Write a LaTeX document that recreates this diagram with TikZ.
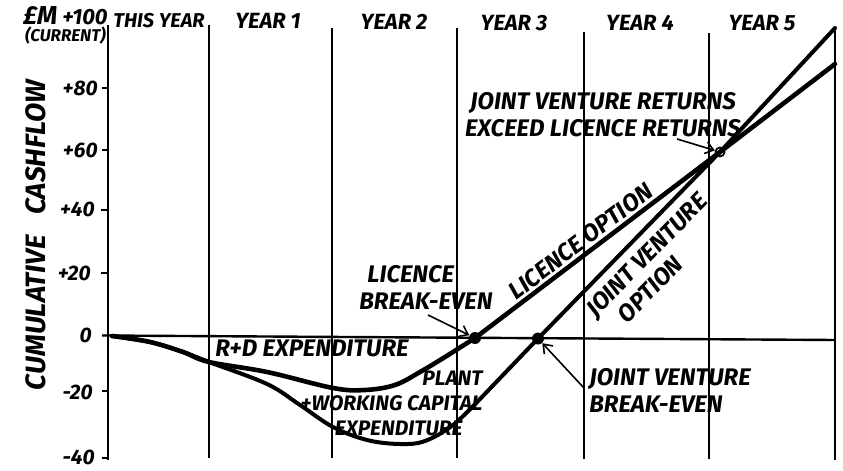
\documentclass[tikz,border=0pt]{standalone}
\usepackage{fontspec}
\setmainfont{Fira Sans}
\usetikzlibrary{arrows.meta}
\newcommand\hand[2]{\fontsize{#1}{#2}\selectfont\bfseries\itshape}
\tikzset{every node/.style={font=\hand{12}{13.5},inner sep=1pt},
  yearlab/.style={font=\hand{11}{13}},
  ticklab/.style={font=\hand{10.5}{12},anchor=east},
  grid/.style={line width=1pt},
  curve/.style={line width=2.3pt,line join=round,line cap=round},
  dot/.style={circle,fill,minimum size=6pt,inner sep=0pt},
  ring/.style={circle,draw,line width=0.9pt,minimum size=4.5pt,inner sep=0pt},
  pointer/.style={line width=0.8pt,-{Straight Barb[length=4pt,width=6pt]}}}

\begin{document}
\begin{tikzpicture}[x=0.5pt,y=-0.5pt]
\useasboundingbox (0,0) rectangle (843,471);

% axis and year grid
\draw[grid] (108,25) -- (108,460);
\draw[grid] (209,25) -- (209,458);
\draw[grid] (332,28) -- (332,458);
\draw[grid] (457,28) -- (457,458);
\draw[grid] (584,32) -- (584,459);
\draw[grid] (709,33) -- (709,459);
\draw[grid] (835,27) -- (835,460);
\draw[line width=1.2pt] (102,335.5) -- (835,340);

\draw[grid] (102,88) -- (108,88);
\draw[grid] (102,150) -- (108,150);
\draw[grid] (101,210) -- (108,210);
\draw[grid] (101,273) -- (108,273);
\draw[grid] (102,391) -- (108,391);
\draw[grid] (102,458) -- (108,458);

\node[ticklab] (t80) at (100,88) {+80};
\node[ticklab] (t60) at (100,150) {+60};
\node[ticklab] (t40) at (97,209) {+40};
\node[ticklab] (t20) at (93,273) {+20};
\node[ticklab] (t0) at (94,335) {0};
\node[ticklab] (tm20) at (95,392) {-20};
\node[ticklab] (tm40) at (97,457) {-40};

\node[anchor=base east,font=\hand{11}{13}] (unit) at (110,25) {{\fontsize{13}{15}\selectfont £M} +100};
\node[anchor=base east,font=\hand{8.5}{10}] (cur) at (108,41) {(CURRENT)};
\node[rotate=90,font=\hand{14}{16}] (title) at (36,235) {CUMULATIVE\hspace{10pt}CASHFLOW};

\node[yearlab,font=\hand{10}{12}] (y0) at (159,21) {THIS YEAR};
\node[yearlab] (y1) at (268,21) {YEAR 1};
\node[yearlab] (y2) at (394,22) {YEAR 2};
\node[yearlab] (y3) at (514,23) {YEAR 3};
\node[yearlab] (y4) at (640,23) {YEAR 4};
\node[yearlab] (y5) at (762,23) {YEAR 5};

% key points
\node[dot] (LB) at (475,338) {};
\node[dot] (JB) at (538,338.5) {};
\coordinate (Lend) at (835,64);
\coordinate (Jend) at (835,28);

% cashflow curves
\draw[curve] plot[smooth,tension=0.6] coordinates {(112,336) (150,342) (183,352) (209,362) (267,372) (333,388) (365,390) (395,385) (420,372) (445,357) (LB.center)} -- (720,152) -- (Lend);
\draw[curve,line width=2pt] plot[smooth,tension=0.6] coordinates {(112,336) (150,342) (183,352) (209,362) (267,384) (300,405) (333,427) (367,440) (400,444) (425,441) (453,425) (481,398)} -- (JB.center) -- (720,152) -- (Jend);

\node[ring] (X) at (720,152) {};

% labels
\node (rd) at (312,348) {R+D EXPENDITURE};
\node[align=right,anchor=east,font=\hand{10.5}{12.5}] (plant) at (485,403) {PLANT\\+WORKING CAPITAL\\EXPENDITURE\rule{10pt}{0pt}};
\node[align=left,anchor=west] (lbt) at (357,287) {\hspace*{4pt}LICENCE\\BREAK-EVEN};
\node[align=left,anchor=west] (jbt) at (587,390) {JOINT VENTURE\\BREAK-EVEN};
\node[align=center] (xt) at (603,115) {JOINT VENTURE RETURNS\\EXCEED LICENCE RETURNS};
\path (LB) -- (X) node[pos=0.46,sloped,above,inner sep=2pt] (lo) {LICENCE OPTION};
\path (JB) -- (X) node[pos=0.52,sloped,below,align=center,inner sep=5pt] (jo) {JOINT VENTURE\\OPTION\rule{22pt}{0pt}};

\coordinate (LBtail) at (428,315);
\coordinate (JBtail) at (584,388);
\coordinate (Xtail) at (677,139);
\draw[pointer] (LBtail) -- (LB);
\draw[pointer] (JBtail) -- (JB);
\draw[pointer] (Xtail) -- (X);

\end{tikzpicture}
\end{document}
